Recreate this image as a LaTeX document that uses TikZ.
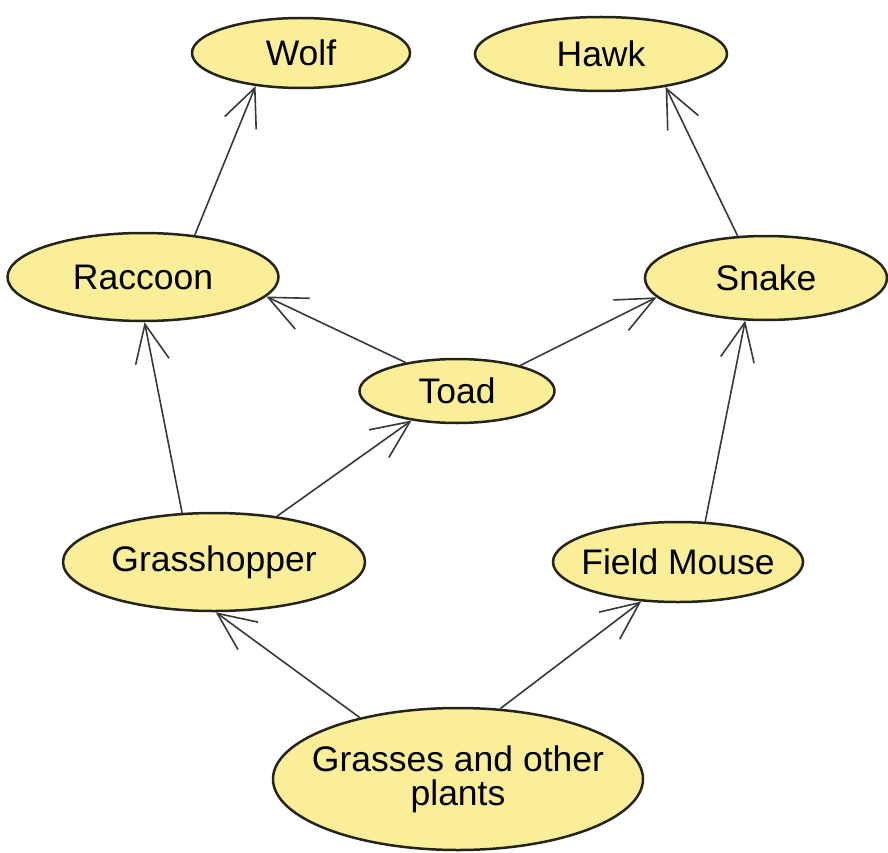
\documentclass[tikz,border=0pt]{standalone}
\usepackage{fontspec}
\setmainfont{Liberation Sans}
\usepackage{tikz}
\usetikzlibrary{shapes, positioning, arrows.meta}
\definecolor{foodfill}{HTML}{FBEE98}
\definecolor{foodline}{HTML}{24241A}

\begin{document}
\begin{tikzpicture}[x=1pt, y=-1pt, auto, >={Straight Barb[length=38pt,width=34pt]}]
\tikzstyle{every node}=[ellipse, draw=foodline, line width=2.5pt, fill=foodfill, inner sep=0pt, text=black, font=\fontsize{35.5}{34}\selectfont, align=center]
\tikzstyle{eat}=[->, every edge/.style={draw=black!78, line width=1.6pt}]

\useasboundingbox (0,0) rectangle (888,853);

\node[minimum width=218pt, minimum height=70pt]    (W) at (301,53)   {Wolf};
\node[minimum width=252pt, minimum height=74pt]    (H) at (601,54)   {Hawk};
\node[minimum width=271pt, minimum height=88pt]    (R) at (143,277)  {Raccoon};
\node[minimum width=242pt, minimum height=84pt]    (S) at (766,278)  {Snake};
\node[minimum width=195pt, minimum height=64pt]    (T) at (457,391)  {Toad};
\node[minimum width=302pt, minimum height=98pt, inner xsep=-8pt]    (G) at (214,562)  {Grasshopper};
\node[minimum width=250pt, minimum height=80pt, inner xsep=-20pt]   (F) at (678,562)  {Field Mouse};
\node[minimum width=370pt, minimum height=142pt, inner xsep=-30pt]  (P) at (458,779)  {Grasses and other\\plants};

\path[eat]
(P.148) edge     	(G.272)
(P.59)  edge     	(F.227)
(G.123) edge     	(R.272)
(G.36)  edge     	(T.213)
(T.151) edge     	(R.351)
(T.22)  edge     	(S.190)
(R.39)  edge     	(W.216)
(F.56)  edge     	(S.244)
(S.124) edge     	(H.333);

\end{tikzpicture}
\end{document}
